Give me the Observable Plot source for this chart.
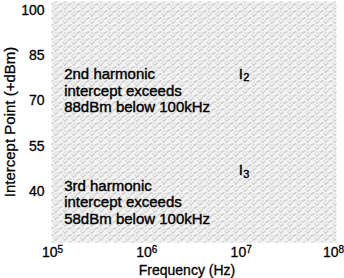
<!DOCTYPE html>
<html>
<head>
<meta charset="utf-8">
<script src="https://cdn.jsdelivr.net/npm/d3@7"></script>
<script src="https://cdn.jsdelivr.net/npm/@observablehq/plot@0.6"></script>
<style>
  html, body { margin: 0; padding: 0; background: #fff; }
  svg { font-family: "Liberation Sans", Arial, Helvetica, sans-serif; }
</style>
</head>
<body>
<div id="chart"></div>
<script>
const xTicks = [1e5, 1e6, 1e7, 1e8];
const xTickBase = ["10", "10", "10", "10"];
const xTickExp = ["5", "6", "7", "8"];
const yTicks = [40, 55, 70, 85, 100];

const noteX = [1.33e5, 1.33e5];
const noteY = [73.5, 36.5];
const noteText = [
  "2nd harmonic\nintercept exceeds\n88dBm below 100kHz",
  "3rd harmonic\nintercept exceeds\n58dBm below 100kHz"
];

const curveLabelX = [9.4e6, 9.4e6];
const curveLabelY = [79.0, 47.0];
const curveLabelMain = ["I", "I"];
const curveLabelSub = ["2", "3"];

const notes = noteText.map((t, i) => ({x: noteX[i], y: noteY[i], t}));
const curveLabels = curveLabelMain.map((t, i) => ({x: curveLabelX[i], y: curveLabelY[i], t, s: curveLabelSub[i]}));

const fontStyle = {stroke: "#000", strokeWidth: 0.4};

const chart = Plot.plot({
  width: 344,
  height: 278,
  marginLeft: 52,
  marginRight: 9,
  marginTop: 2,
  marginBottom: 37,
  style: {fontFamily: '"Liberation Sans", Arial, sans-serif', background: "#fff", color: "#000"},
  x: {type: "log", domain: [1e5, 1e8], label: null},
  y: {domain: [23.4, 102.6], label: null},
  marks: [
    Plot.frame({fill: "url(#speckle)", stroke: null, inset: -1}),
    Plot.axisX({ticks: xTicks, tickFormat: d => xTickBase[xTicks.indexOf(d)] + "|" + xTickExp[xTicks.indexOf(d)], tickSize: 0, tickPadding: 6, fontSize: 14, label: null}),
    Plot.axisY({ticks: yTicks, tickSize: 0, tickPadding: 8, fontSize: 14, label: null, fill: "#000"}),
    Plot.text(notes, {x: "x", y: "y", text: "t", textAnchor: "start", lineAnchor: "middle", fontSize: 15, lineHeight: 1.12, fill: "#000", ...fontStyle}),
    Plot.text(curveLabels, {x: "x", y: "y", text: "t", textAnchor: "start", fontSize: 15, fill: "#000", ...fontStyle}),
    Plot.text(curveLabels, {x: "x", y: "y", text: "s", textAnchor: "start", dx: 4.5, dy: 4, fontSize: 11, fill: "#000", ...fontStyle})
  ]
});

const svg = d3.select(chart);

// speckled scan-like texture for the plot background
const pat = svg.insert("defs", ":first-child")
  .append("pattern").attr("id", "speckle")
  .attr("patternUnits", "userSpaceOnUse").attr("width", 9).attr("height", 7);
pat.append("rect").attr("width", 9).attr("height", 7).attr("fill", "#f3f3f3");
[[0,1],[1,1],[2,0],[4,4],[5,4],[6,3],[7,3],[3,6],[8,6],[1,4]].forEach(([px, py]) =>
  pat.append("rect").attr("x", px).attr("y", py).attr("width", 1).attr("height", 1).attr("fill", "#b0b0b0"));

// superscript exponents on the x tick labels
const xLabels = svg.selectAll('g[aria-label="x-axis tick label"] text');
xLabels.each(function() {
  const el = d3.select(this);
  const [base, exp] = el.text().split("|");
  el.text(null).attr("fill", "#000");
  el.append("tspan").text(base);
  el.append("tspan").attr("dy", "-0.45em").attr("font-size", 10).text(exp);
});
const lastLabel = xLabels.nodes()[xLabels.size() - 1];
if (lastLabel) d3.select(lastLabel).attr("dx", -2);
svg.selectAll('g[aria-label="x-axis tick label"] text, g[aria-label="y-axis tick label"] text')
  .attr("stroke", "#000").attr("stroke-width", 0.3);

// axis titles
svg.append("text")
  .attr("transform", "translate(15,122) rotate(-90)")
  .attr("text-anchor", "middle")
  .attr("font-size", 15)
  .attr("fill", "#000").attr("stroke", "#000").attr("stroke-width", 0.3)
  .text("Intercept Point (+dBm)");
svg.append("text")
  .attr("x", 187)
  .attr("y", 275)
  .attr("text-anchor", "middle")
  .attr("font-size", 14)
  .attr("fill", "#000").attr("stroke", "#000").attr("stroke-width", 0.3)
  .text("Frequency (Hz)");

document.getElementById("chart").appendChild(chart);
</script>
</body>
</html>
